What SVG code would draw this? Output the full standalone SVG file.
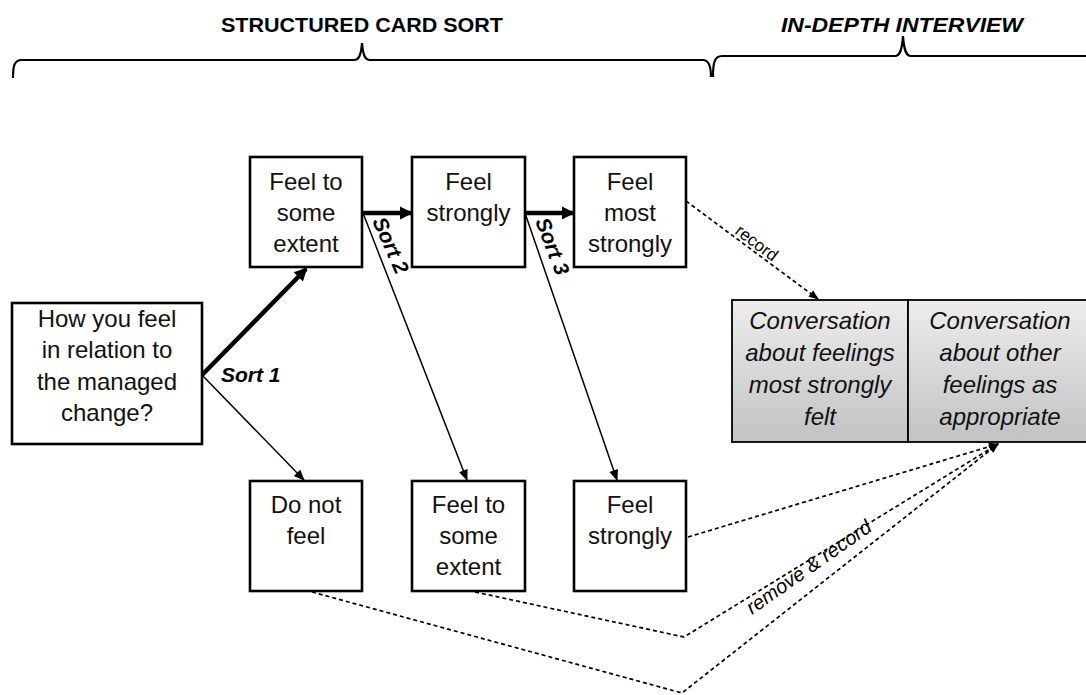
<svg xmlns="http://www.w3.org/2000/svg" width="1086" height="695" viewBox="0 0 1086 695">
<defs>
  <linearGradient id="gfill" x1="0" y1="0" x2="0" y2="1">
    <stop offset="0" stop-color="#ededed"/>
    <stop offset="1" stop-color="#c2c2c2"/>
  </linearGradient>
  <marker id="ahThick" markerUnits="userSpaceOnUse" markerWidth="14" markerHeight="13" refX="11" refY="6.5" orient="auto" overflow="visible">
    <path d="M0,0 L13,6.5 L0,13 z" fill="#000"/>
  </marker>
  <marker id="ahThin" markerUnits="userSpaceOnUse" markerWidth="11" markerHeight="9" refX="10" refY="4.5" orient="auto" overflow="visible">
    <path d="M0,0 L11,4.5 L0,9 z" fill="#000"/>
  </marker>
  <marker id="ahDash" markerUnits="userSpaceOnUse" markerWidth="10" markerHeight="8" refX="9" refY="4" orient="auto" overflow="visible">
    <path d="M0,0 L10,4 L0,8 z" fill="#000"/>
  </marker>
</defs>
<style>
  .box { fill: #ffffff; stroke: #000; stroke-width: 2.6; }
  .conv { fill: url(#gfill); stroke: #000; stroke-width: 1.8; }
  .t { font-family: "Liberation Sans", Arial, sans-serif; font-size: 24px; fill: #111; text-anchor: middle; }
  .ti { font-family: "Liberation Sans", Arial, sans-serif; font-size: 24px; font-style: italic; fill: #111; text-anchor: middle; }
  .title { font-family: "Liberation Sans", Arial, sans-serif; font-size: 20px; font-weight: bold; fill: #000; }
  .sort { font-family: "Liberation Sans", Arial, sans-serif; font-size: 21px; font-weight: bold; font-style: italic; fill: #000; }
  .lbl { font-family: "Liberation Sans", Arial, sans-serif; fill: #000; }
  .brace { fill: none; stroke: #000; stroke-width: 2.2; }
  .thick { stroke: #000; stroke-width: 4.5; fill: none; marker-end: url(#ahThick); }
  .thin { stroke: #000; stroke-width: 1.5; fill: none; marker-end: url(#ahThin); }
  .dash { stroke: #000; stroke-width: 1.7; fill: none; stroke-dasharray: 4 3; marker-end: url(#ahDash); }
</style>

<g id="header">
  <text class="title" x="362" y="32" text-anchor="middle" textLength="282" lengthAdjust="spacingAndGlyphs">STRUCTURED CARD SORT</text>
  <text class="title" x="902" y="32" text-anchor="middle" style="font-style:italic" textLength="242" lengthAdjust="spacingAndGlyphs">IN-DEPTH INTERVIEW</text>
  <path class="brace" d="M13,78 C13,66 14,60 22,60 L354,60 C359,60 361,55 362,43 C363,55 365,60 370,60 L703,60 C709,60 711,66 711,77"/>
  <path class="brace" d="M713,77 C713,64 714,56 722,56 L895,56 C900,56 902,50 903,36 C904,50 906,56 911,56 L1088,56"/>
</g>

<g id="connectors">
  <line class="thick" x1="202" y1="375" x2="306" y2="269"/>
  <line class="thin" x1="202" y1="375" x2="304" y2="480"/>
  <line class="thick" x1="362" y1="213" x2="411" y2="213"/>
  <line class="thick" x1="525" y1="213" x2="573" y2="213"/>
  <line class="thin" x1="363" y1="213" x2="467" y2="480"/>
  <line class="thin" x1="525" y1="213" x2="617" y2="480"/>
  <line class="dash" x1="686" y1="201" x2="818" y2="299"/>
  <polyline class="dash" points="688,537 998,444"/>
  <polyline class="dash" points="475,592 684,637 998,444"/>
  <polyline class="dash" points="312,592 682,693 998,444"/>
  <text class="sort" x="221" y="382">Sort 1</text>
  <text class="sort" transform="translate(372,221) rotate(66)">Sort 2</text>
  <text class="sort" transform="translate(535,221) rotate(69)">Sort 3</text>
  <text class="lbl" style="font-size:17px" transform="translate(734,233) rotate(37)">record</text>
  <text class="lbl" style="font-size:20px;font-style:italic" transform="translate(752,615) rotate(-35)">remove &amp; record</text>
</g>

<g id="question">
  <rect class="box" x="12" y="303" width="190" height="141"/>
  <text class="t" x="107" y="327">How you feel</text>
  <text class="t" x="107" y="358">in relation to</text>
  <text class="t" x="107" y="390">the managed</text>
  <text class="t" x="107" y="421">change?</text>
</g>

<g id="top-some-extent">
  <rect class="box" x="250" y="157" width="112" height="110"/>
  <text class="t" x="306" y="190">Feel to</text>
  <text class="t" x="306" y="221">some</text>
  <text class="t" x="306" y="252">extent</text>
</g>
<g id="top-strongly">
  <rect class="box" x="412" y="157" width="113" height="110"/>
  <text class="t" x="468.5" y="190">Feel</text>
  <text class="t" x="468.5" y="221">strongly</text>
</g>
<g id="top-most-strongly">
  <rect class="box" x="574" y="157" width="112" height="110"/>
  <text class="t" x="630" y="190">Feel</text>
  <text class="t" x="630" y="221">most</text>
  <text class="t" x="630" y="252">strongly</text>
</g>

<g id="bottom-do-not-feel">
  <rect class="box" x="250" y="481" width="112" height="110"/>
  <text class="t" x="306" y="513">Do not</text>
  <text class="t" x="306" y="544">feel</text>
</g>
<g id="bottom-some-extent">
  <rect class="box" x="412" y="481" width="113" height="110"/>
  <text class="t" x="468.5" y="513">Feel to</text>
  <text class="t" x="468.5" y="544">some</text>
  <text class="t" x="468.5" y="575">extent</text>
</g>
<g id="bottom-strongly">
  <rect class="box" x="574" y="481" width="112" height="110"/>
  <text class="t" x="630" y="513">Feel</text>
  <text class="t" x="630" y="544">strongly</text>
</g>

<g id="conv-most">
  <rect class="conv" x="732" y="300" width="176" height="142"/>
  <text class="ti" x="820" y="329">Conversation</text>
  <text class="ti" x="820" y="361">about feelings</text>
  <text class="ti" x="820" y="393">most strongly</text>
  <text class="ti" x="820" y="425">felt</text>
</g>
<g id="conv-other">
  <rect class="conv" x="908" y="300" width="186" height="142"/>
  <text class="ti" x="1000" y="329">Conversation</text>
  <text class="ti" x="1000" y="361">about other</text>
  <text class="ti" x="1000" y="393">feelings as</text>
  <text class="ti" x="1000" y="425">appropriate</text>
</g>
</svg>
